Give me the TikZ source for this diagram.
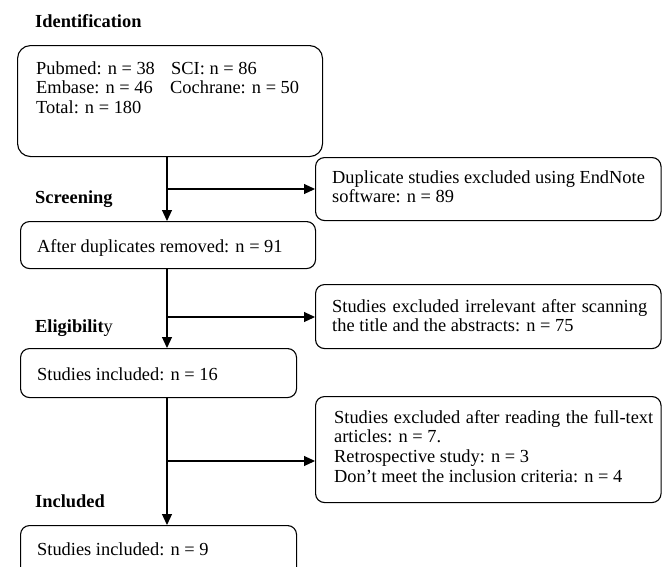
\documentclass[tikz,border=0pt]{standalone}
\usepackage{fontspec}
\setmainfont{Liberation Serif}
\usetikzlibrary{arrows.meta}
\newcommand\boxlines[2]{\parbox[t]{#1}{\raggedright #2}}
\begin{document}
\begin{tikzpicture}[x=1pt,y=-1pt,
  box/.style={draw, line width=1.1pt, rounded corners=9pt, anchor=north west, inner sep=0pt},
  txt/.style={anchor=base west, inner sep=0pt, font=\fontsize{18.4}{19.8}\selectfont},
  head/.style={anchor=base west, inner sep=0pt, font=\fontsize{18.4}{19.8}\selectfont\bfseries},
  arr/.style={line width=1.1pt, -{Triangle[length=11pt,width=10pt]}},
  ]
\useasboundingbox (0,0) rectangle (662,566);
% boxes
\node[box, rounded corners=13pt, minimum width=305pt, minimum height=111pt] (b1) at (17,45) {};
\node[box, minimum width=345.5pt, minimum height=63pt] (dup) at (315,157) {};
\node[box, minimum width=295pt, minimum height=47pt] (b2) at (20,221) {};
\node[box, minimum width=345.5pt, minimum height=64pt] (ex2) at (315,284) {};
\node[box, minimum width=276pt, minimum height=49pt] (b3) at (20,348) {};
\node[box, minimum width=345.5pt, minimum height=106pt] (ex3) at (315,396) {};
\node[box, minimum width=276pt, minimum height=70pt] (b4) at (20,525) {};
% headings
\node[head] (hid) at (35,27) {Identification};
\node[head] (hsc) at (35,203) {Screening};
\node[head] (hel) at (35,332) {Eligibilit{\mdseries y}};
\node[head] (hin) at (35,507) {Included};
% texts
\node[txt] (t1) at (36,74) {\boxlines{280pt}{\makebox[135pt][l]{Pubmed: n = 38}SCI: n = 86\\
\makebox[134pt][l]{Embase: n = 46}Cochrane: n = 50\\
Total: n = 180}};
\node[txt] (tdup) at (332,183) {\boxlines{325pt}{Duplicate studies excluded using EndNote\\software: n = 89}};
\node[txt] (t2) at (37,252) {After duplicates removed: n = 91};
\node[txt] (tex2) at (332,312) {\boxlines{325pt}{\makebox[315pt][s]{Studies excluded irrelevant after scanning}\\the title and the abstracts: n = 75}};
\node[txt] (t3) at (37,380) {Studies included: n = 16};
\node[txt] (tex3) at (334,423) {\boxlines{325pt}{\makebox[319pt][s]{Studies excluded after reading the full-text}\\articles: n = 7.\\Retrospective study: n = 3\\Don\char"27 t meet the inclusion criteria: n = 4}};
\node[txt] (t4) at (37,555) {Studies included: n = 9};
% connectors
\coordinate (vl) at (167,0);
\coordinate (j1) at (167,189);
\coordinate (j2) at (167,317);
\coordinate (j3) at (167,461);
\draw[arr] (vl |- b1.south) -- (vl |- b2.north);
\draw[arr] (j1) -- (j1 -| dup.west);
\draw[arr] (vl |- b2.south) -- (vl |- b3.north);
\draw[arr] (j2) -- (j2 -| ex2.west);
\draw[arr] (vl |- b3.south) -- (vl |- b4.north);
\draw[arr] (j3) -- (j3 -| ex3.west);
\end{tikzpicture}
\end{document}
